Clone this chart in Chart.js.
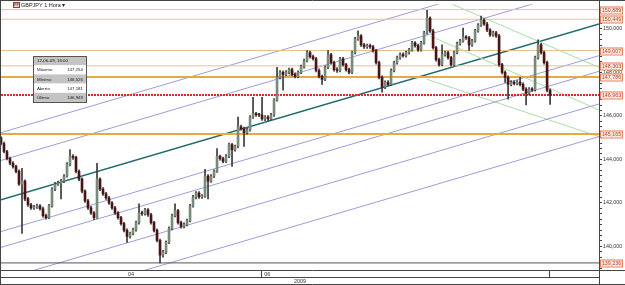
<!DOCTYPE html>
<html lang="pt">
<head>
<meta charset="UTF-8" />
<title>GBPJPY 1 Hora</title>
<script src="https://cdn.jsdelivr.net/npm/chart.js@4.4.1/dist/chart.umd.min.js"></script>
<style>
  html, body { margin: 0; padding: 0; background: #fff; }
  #chart { display: block; }
</style>
</head>
<body>
<canvas id="chart" width="625" height="285"></canvas>
<script>
// candles (one every ~3 px)
const opens = [145.00,144.73,144.36,144.04,143.82,143.68,143.45,142.86,143.00,142.18,
141.91,141.77,141.80,141.86,141.73,141.41,141.32,141.86,142.63,142.86,
142.91,143.00,143.23,143.77,144.14,144.09,143.45,143.09,142.54,142.09,
141.77,141.54,141.32,143.09,142.63,142.41,142.23,142.00,141.77,141.54,
141.32,141.04,140.73,140.45,140.59,140.77,141.09,141.54,141.50,141.68,
141.45,141.09,140.73,140.27,139.59,139.73,140.18,140.82,141.41,141.64,
141.09,140.91,141.00,141.18,141.86,142.27,142.45,142.27,142.30,143.23,
143.00,143.23,143.45,144.14,144.04,143.91,144.14,144.68,144.45,144.59,
145.50,145.41,145.23,145.36,145.95,146.09,146.06,146.04,145.86,145.95,
145.86,146.04,146.73,147.77,148.00,147.91,148.00,148.13,147.91,147.82,
148.00,148.27,148.54,148.91,148.73,148.63,148.09,147.82,147.68,148.23,
148.82,148.45,148.13,148.09,148.63,148.36,148.13,148.00,148.91,149.54,
149.68,149.27,149.18,149.23,149.18,149.00,148.45,147.77,147.32,147.54,
147.45,148.09,148.45,148.68,148.82,148.77,148.91,149.04,149.36,149.23,
149.04,149.36,149.82,150.50,149.91,149.14,148.59,148.36,148.82,148.91,
148.68,148.36,148.91,149.32,149.45,149.63,149.59,149.27,149.45,149.91,
150.18,150.41,150.23,149.95,149.73,149.82,149.68,148.36,148.00,147.77,
147.45,147.54,147.50,147.56,147.45,147.23,147.04,147.23,147.20,148.68,
149.27,148.91,148.45,147.18];
const highs = [145.05,144.80,144.42,144.10,143.90,143.74,143.52,143.59,143.06,142.25,
141.98,141.88,141.94,141.92,141.80,141.48,141.93,142.70,142.94,143.00,
143.08,143.30,143.85,144.45,144.22,144.15,143.52,143.15,142.60,142.16,
141.84,141.60,143.82,143.15,142.70,142.48,142.30,142.06,141.84,141.60,
141.38,141.10,140.80,140.66,140.84,141.16,141.95,141.62,141.75,141.74,
141.52,141.15,140.80,140.33,139.82,140.25,140.90,141.48,141.95,141.70,
141.16,141.08,141.25,141.93,142.34,142.52,142.52,142.38,143.54,143.30,
143.30,143.52,144.50,144.20,144.10,144.22,144.75,144.74,144.66,145.95,
145.58,145.48,145.43,146.02,146.86,146.16,146.12,146.86,146.02,146.02,
146.12,146.80,148.23,148.08,148.07,148.08,148.20,148.20,147.98,148.07,
148.34,148.61,149.00,148.98,148.80,148.70,148.16,147.88,148.30,149.00,
148.88,148.52,148.22,148.70,148.70,148.42,148.20,148.98,149.61,149.91,
149.74,149.34,149.30,149.30,149.25,149.06,148.52,147.84,147.61,147.62,
148.16,148.52,148.75,148.90,148.90,148.98,149.11,149.43,149.42,149.30,
149.43,149.89,150.86,150.56,149.98,149.20,148.66,149.27,148.98,148.98,
148.74,148.98,149.40,149.52,150.04,149.70,149.66,149.52,149.98,150.25,
150.59,150.48,150.30,150.02,149.90,149.89,149.75,148.42,148.07,147.84,
147.62,147.61,147.63,147.77,147.52,147.30,147.30,147.30,148.75,149.50,
149.34,148.98,148.52,147.25];
const lows = [144.66,144.30,143.97,143.75,143.60,143.38,142.80,140.59,142.10,141.84,
141.70,141.70,141.74,141.66,141.34,141.25,141.27,141.80,142.56,142.80,
142.18,142.93,143.18,143.70,144.00,143.38,143.02,142.46,142.02,141.70,
141.47,141.22,141.28,142.56,142.34,142.16,141.93,141.70,141.47,141.25,
140.97,140.66,140.18,140.38,140.52,140.70,141.02,141.42,141.43,141.38,
141.02,140.66,140.20,139.23,139.50,139.66,140.12,140.75,141.35,141.02,
140.84,140.85,140.94,141.12,141.80,142.18,142.20,142.20,142.25,142.18,
142.94,143.16,143.40,143.96,143.84,143.85,144.08,143.68,144.38,144.53,
145.34,144.59,145.16,145.30,145.88,145.98,145.96,145.79,145.78,145.78,
145.80,145.98,146.68,147.70,147.18,147.84,147.93,147.84,147.75,147.76,
147.94,148.20,148.48,148.66,148.56,148.02,147.75,147.45,147.62,148.17,
148.38,148.06,148.00,148.02,148.29,148.06,147.93,147.94,148.85,149.47,
149.20,149.11,149.10,149.11,148.93,148.38,147.70,147.09,147.25,147.38,
147.40,148.02,148.38,148.61,148.70,148.70,148.84,148.98,149.16,148.97,
148.98,149.30,149.76,149.84,149.07,148.52,148.29,148.30,148.75,148.61,
148.29,148.30,148.85,149.25,149.39,149.52,149.00,149.20,149.39,149.85,
150.12,150.16,149.88,149.66,149.66,149.61,148.29,147.93,147.54,146.77,
147.38,147.43,147.43,147.38,147.16,146.50,146.97,147.13,147.14,148.61,
148.84,148.38,147.10,146.53];
const closes = [144.73,144.36,144.04,143.82,143.68,143.45,142.86,143.00,142.18,141.91,
141.77,141.80,141.86,141.73,141.41,141.32,141.86,142.63,142.86,142.91,
143.00,143.23,143.77,144.14,144.09,143.45,143.09,142.54,142.09,141.77,
141.54,141.32,143.09,142.63,142.41,142.23,142.00,141.77,141.54,141.32,
141.04,140.73,140.45,140.59,140.77,141.09,141.54,141.50,141.68,141.45,
141.09,140.73,140.27,139.59,139.73,140.18,140.82,141.41,141.64,141.09,
140.91,141.00,141.18,141.86,142.27,142.45,142.27,142.30,143.23,143.00,
143.23,143.45,144.14,144.04,143.91,144.14,144.68,144.45,144.59,145.50,
145.41,145.23,145.36,145.95,146.09,146.06,146.04,145.86,145.95,145.86,
146.04,146.73,147.77,148.00,147.91,148.00,148.13,147.91,147.82,148.00,
148.27,148.54,148.91,148.73,148.63,148.09,147.82,147.68,148.23,148.82,
148.45,148.13,148.09,148.63,148.36,148.13,148.00,148.91,149.54,149.68,
149.27,149.18,149.23,149.18,149.00,148.45,147.77,147.32,147.54,147.45,
148.09,148.45,148.68,148.82,148.77,148.91,149.04,149.36,149.23,149.04,
149.36,149.82,150.50,149.91,149.14,148.59,148.36,148.82,148.91,148.68,
148.36,148.91,149.32,149.45,149.63,149.59,149.27,149.45,149.91,150.18,
150.41,150.23,149.95,149.73,149.82,149.68,148.36,148.00,147.77,147.45,
147.54,147.50,147.56,147.45,147.23,147.04,147.23,147.20,148.68,149.27,
148.91,148.45,147.18,146.95];

// horizontal levels
const thinLevels = [150.889, 150.449, 149.007, 148.303];
const thickLevels = [147.786, 145.165];
const lastPrice = 146.963;
const lowPrice = 139.236;

// trend lines: [x0, price0, x1, price1]  (x in candle index)
const mainTrend = [0, 142.14, 199.3, 150.23];
const channel = [
  [0, 145.23, 199.3, 153.32],
  [0, 143.95, 199.3, 152.05],
  [0, 140.68, 199.3, 148.77],
  [0, 139.95, 199.3, 148.05],
  [0, 138.45, 199.3, 146.55],
  [0, 136.95, 199.3, 145.05]
];
const fan = [
  [149.7, 151.18, 199.3, 148.23],
  [143.0, 149.68, 199.3, 146.27],
  [142.0, 147.68, 199.3, 145.05]
];

const monthLabels = ['04', '06'];
const monthEdges = [86.7, 182.7];
const yearLabel = '2009';
const title = 'GBPJPY 1 Hora';
const infoDate = '12-06-09, 16:00';
const infoRows = [['Máximo', '147,254'], ['Mínimo', '146,526'], ['Aberto', '147,181'], ['Último', '146,949']];

const xMax = 199.3;
const yMin = 138.91, yMax = 151.14;
const FONT = "'Liberation Sans', Arial, sans-serif";

const fmt = v => v.toFixed(3).replace('.', ',');
const idx = opens.map((_, i) => i);

function seg(s, color, width, dash) {
  return {
    type: 'line',
    data: [{ x: s[0], y: s[1] }, { x: s[2], y: s[3] }],
    borderColor: color, borderWidth: width, borderDash: dash || [],
    pointRadius: 0, fill: false, order: 5
  };
}
const hline = (v, color, width, dash) => seg([0, v, xMax, v], color, width, dash);

const datasets = [];
datasets.push({
  type: 'bar', data: idx.map(i => ({ x: i, y: [opens[i], closes[i]] })),
  backgroundColor: idx.map(i => closes[i] >= opens[i] ? '#7a8a7a' : '#4a1414'),
  barThickness: 2, minBarLength: 1, grouped: false, borderWidth: 0, order: 0
});
datasets.push({
  type: 'bar', data: idx.map(i => ({ x: i, y: [lows[i], highs[i]] })),
  backgroundColor: '#3a3a3a', barThickness: 1, grouped: false, borderWidth: 0, order: 1
});
thinLevels.forEach(v => datasets.push(hline(v, '#e6c489', 1)));
thickLevels.forEach(v => datasets.push(hline(v, '#eaa93f', 2)));
datasets.push(hline(lastPrice, '#d42a2a', 2, [2, 1]));
datasets.push(hline(lowPrice, '#555555', 1));
channel.forEach(s => datasets.push(seg(s, '#9d9dd8', 1)));
fan.forEach(s => datasets.push(seg(s, '#a8dea8', 1)));
datasets.push(seg(mainTrend, '#206c72', 1.5));

const overlay = {
  id: 'overlay',
  afterDraw(chart) {
    const { ctx, chartArea: a, scales: { x, y } } = chart;
    const W = chart.width, H = chart.height;
    const r = Math.round(a.right) + 0.5, b = Math.round(a.bottom) + 0.5;
    ctx.save();
    ctx.lineWidth = 1;
    ctx.strokeStyle = '#444';
    ctx.beginPath();
    ctx.moveTo(0, 0.5); ctx.lineTo(W, 0.5);
    ctx.moveTo(0.5, 0); ctx.lineTo(0.5, H);
    ctx.moveTo(r, 0); ctx.lineTo(r, H);
    ctx.moveTo(0, b); ctx.lineTo(W, b);
    ctx.moveTo(0, b + 7); ctx.lineTo(r, b + 7);
    ctx.moveTo(0, H - 0.5); ctx.lineTo(W, H - 0.5);
    monthEdges.forEach(m => {
      const px = Math.round(x.getPixelForValue(m)) + 0.5;
      ctx.moveTo(px, b); ctx.lineTo(px, b + 7);
    });
    ctx.stroke();

    // date band
    ctx.fillStyle = '#333';
    ctx.font = '5.5px ' + FONT;
    ctx.textBaseline = 'middle';
    const e0 = x.getPixelForValue(monthEdges[0]);
    ctx.textAlign = 'center';
    ctx.fillText(monthLabels[0], (a.left + e0) / 2, b + 4);
    ctx.textAlign = 'left';
    ctx.fillText(monthLabels[1], e0 + 3, b + 4);
    ctx.textAlign = 'center';
    ctx.fillText(yearLabel, (a.left + a.right) / 2, b + 11);

    // price tags on the right
    const tags = thinLevels.concat(thickLevels, [lastPrice, lowPrice]);
    ctx.font = '5.3px ' + FONT;
    tags.forEach(v => {
      const py = Math.round(y.getPixelForValue(v));
      ctx.fillStyle = '#fde8e0';
      ctx.fillRect(600, py - 3.5, 23, 7);
      ctx.strokeStyle = '#e3845e';
      ctx.strokeRect(600.5, py - 3, 22, 7);
      ctx.fillStyle = '#b4452a';
      ctx.textAlign = 'center';
      ctx.fillText(fmt(v), 611.5, py + 0.5);
    });

    // title
    ctx.fillStyle = '#f3d0d0';
    ctx.fillRect(13, 2, 7, 6);
    ctx.strokeStyle = '#a03a3a';
    ctx.strokeRect(13.5, 2.5, 6, 5);
    ctx.fillStyle = '#a03a3a';
    ctx.font = 'bold 4px ' + FONT;
    ctx.textAlign = 'center';
    ctx.fillText('FF', 16.5, 5.3);
    ctx.fillStyle = '#222';
    ctx.font = '5.5px ' + FONT;
    ctx.textAlign = 'left';
    ctx.fillText(title + ' \u25BE', 21, 5.5);

    // info box
    const bx = 33, by = 56, bw = 53, rh = 9.2;
    const rows = [[infoDate, '']].concat(infoRows);
    rows.forEach((row, i) => {
      ctx.fillStyle = i % 2 === 0 ? '#c4c4c4' : '#ffffff';
      ctx.fillRect(bx, by + i * rh, bw, rh);
      ctx.fillStyle = '#222';
      ctx.font = '4.4px ' + FONT;
      ctx.textAlign = 'left';
      ctx.fillText(row[0], bx + 4, by + i * rh + rh / 2 + 0.3);
      ctx.textAlign = 'right';
      ctx.fillText(row[1], bx + bw - 3, by + i * rh + rh / 2 + 0.3);
    });
    ctx.strokeStyle = '#555';
    ctx.strokeRect(bx + 0.5, by + 0.5, bw, rows.length * rh);
    ctx.restore();
  }
};

const chart = new Chart(document.getElementById('chart').getContext('2d'), {
  type: 'bar',
  data: { datasets },
  options: {
    responsive: false,
    animation: false,
    devicePixelRatio: 1,
    layout: { padding: { left: 1, top: 1, right: 0, bottom: 15 } },
    plugins: { legend: { display: false }, tooltip: { enabled: false } },
    scales: {
      x: { type: 'linear', min: 0, max: xMax, display: false, offset: false },
      y: {
        type: 'linear', position: 'right', min: yMin, max: yMax,
        grid: { drawOnChartArea: false, tickLength: 3, color: '#444' },
        border: { display: true, color: '#333' },
        ticks: {
          stepSize: 0.25, autoSkip: false, includeBounds: false, padding: 1,
          color: '#333', font: { family: FONT, size: 5.3 },
          callback: v => (Math.abs(v % 2) < 1e-9 ? fmt(v) : '')
        },
        afterFit: s => { s.width = 26; }
      }
    }
  },
  plugins: [overlay]
});
</script>
</body>
</html>
